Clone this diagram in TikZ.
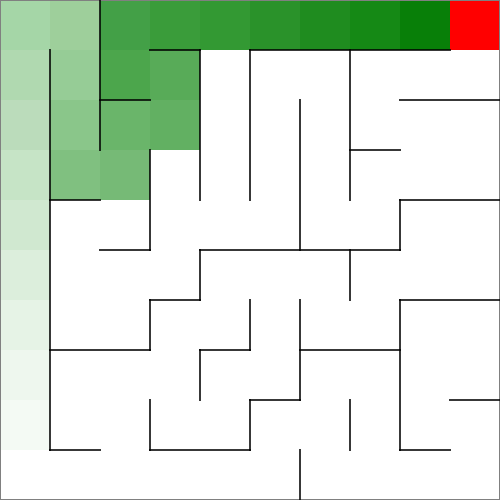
\documentclass[tikz,border=0pt]{standalone}
\begin{document}
\begin{tikzpicture}[yscale=-1,
  wall/.style={draw=black,draw opacity=0.78,line width=1.1pt,line cap=rect},
  frame/.style={draw=gray,line width=0.6pt}]
\useasboundingbox (0,0) rectangle (10,10);
\fill[white] (0,0) rectangle (10,10);
% shaded cells: col/row/colour
\foreach \cx/\cy/\cc in {0/0/A5D6A7,1/0/9ECF9B,2/0/43A047,3/0/3A9C3A,4/0/339933,5/0/2A922A,6/0/1F8C1F,7/0/158915,8/0/087F08,9/0/FF0000,
  0/1/B0D9B0,1/1/96CC96,2/1/4CA64C,3/1/58AB58,
  0/2/BBDCBB,1/2/8AC68A,2/2/6AB56A,3/2/62B062,
  0/3/C6E4C6,1/3/80C080,2/3/76BA76,
  0/4/D0E8D0,0/5/DCEEDC,0/6/E6F3E6,0/7/EEF7EE,0/8/F4FAF4}{
  \definecolor{cellc}{HTML}{\cc}
  \fill[cellc] (\cx,\cy) rectangle ++(1,1);
}
% outer frame
\draw[frame] (0.01,0.01) rectangle (9.99,9.99);
% vertical walls x/y1/y2
\foreach \wx/\ya/\yb in {1/1/9,2/0/3,3/3/5,3/6/7,3/8/9,4/1/4,4/5/6,4/7/8,5/1/4,5/6/7,5/8/9,
  6/2/5,6/6/8,6/9/10,7/1/4,7/5/6,7/8/9,8/4/5,8/6/9}{
  \draw[wall] (\wx,\ya) -- (\wx,\yb);
}
% horizontal walls y/x1/x2
\foreach \wy/\xa/\xb in {1/3/4,1/5/9,2/2/3,2/8/10,3/7/8,4/1/2,4/8/10,5/2/3,5/4/8,6/3/4,6/8/10,
  7/1/3,7/4/5,7/6/8,8/5/6,8/9/10,9/1/2,9/3/5,9/8/9}{
  \draw[wall] (\xa,\wy) -- (\xb,\wy);
}
\end{tikzpicture}
\end{document}
